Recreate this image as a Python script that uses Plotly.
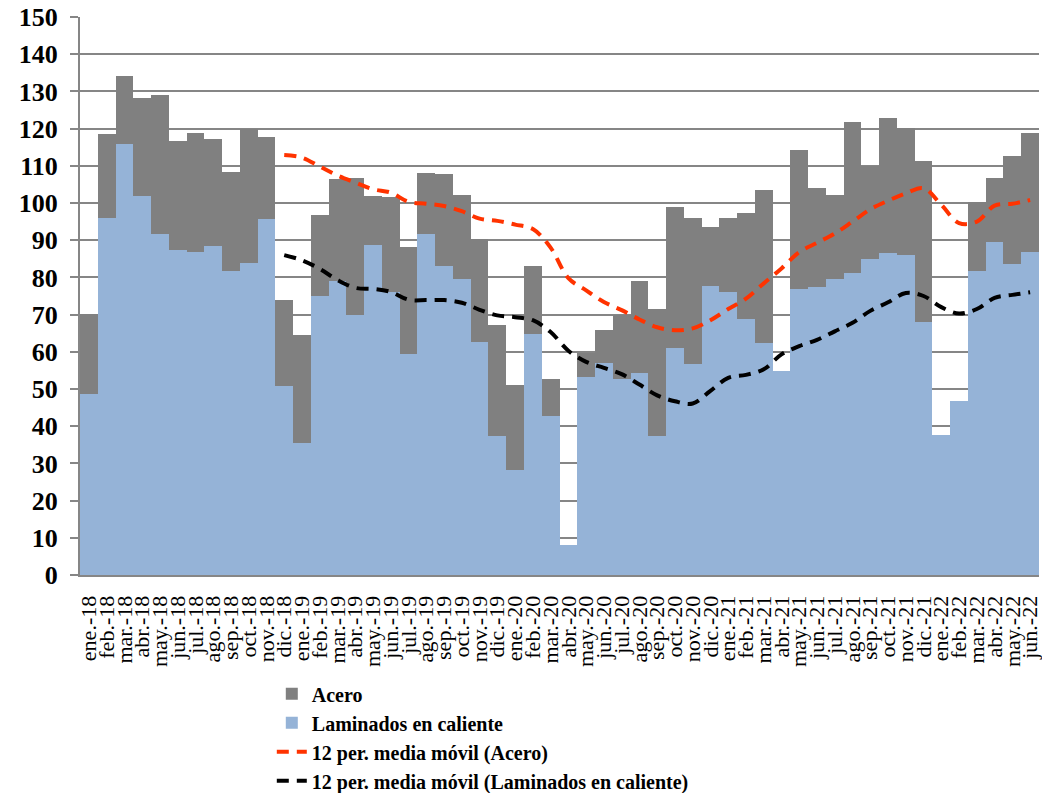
import plotly.graph_objects as go

# Meses (ene.-18 .. jun.-22)
meses = ["ene.", "feb.", "mar.", "abr.", "may.", "jun.",
         "jul.", "ago.", "sep.", "oct.", "nov.", "dic."]
categorias = [f"{m}-{a}" for a in range(18, 23) for m in meses][:54]

# Índices
acero = [70.1, 118.6, 134.1, 128.2, 128.9, 116.8, 118.8, 117.1, 108.3, 119.9, 117.8, 74.0,
         64.5, 96.7, 106.4, 106.7, 102.0, 101.5, 88.2, 108.0, 107.7, 102.1, 90.4, 67.3,
         51.2, 83.2, 52.7, 8.0, 59.6, 65.8, 69.8, 79.1, 71.4, 99.0, 95.9, 93.5,
         96.1, 97.2, 103.5, 54.5, 114.3, 104.1, 102.2, 121.8, 110.0, 122.8, 120.1, 111.2,
         37.5, 46.5, 100.4, 106.8, 112.6, 118.9]

laminados = [48.7, 96.0, 115.9, 101.8, 91.7, 87.3, 86.7, 88.5, 81.6, 83.9, 95.6, 50.8,
             35.4, 75.1, 79.0, 70.0, 88.7, 76.1, 59.3, 91.7, 83.0, 79.5, 62.7, 37.5,
             28.3, 64.9, 42.7, 8.1, 53.2, 57.0, 52.8, 54.3, 37.3, 61.0, 56.6, 77.7,
             76.0, 68.7, 62.4, 54.9, 76.8, 77.3, 79.5, 81.2, 84.9, 86.6, 86.0, 68.0,
             37.7, 46.7, 81.7, 89.4, 83.6, 86.9]

# Medias móviles de 12 periodos (empiezan en dic.-18)
mm_acero = [None] * 11 + [
    112.9, 112.2, 109.8, 107.4, 105.5, 103.7, 102.8, 100.3, 99.8, 99.2, 97.8, 95.8,
    95.2, 94.2, 93.0, 88.0, 79.8, 76.5, 73.4, 71.2, 68.7, 66.6, 65.8, 66.3,
    68.5, 71.5, 74.3, 78.4, 82.4, 86.8, 89.3, 91.8, 95.0, 98.3, 100.6, 102.6,
    104.0, 99.5, 94.6, 95.0, 99.3, 99.8, 100.8]

mm_laminados = [None] * 11 + [
    86.0, 84.6, 82.3, 79.3, 77.2, 76.9, 76.1, 74.0, 73.9, 73.9, 73.2, 71.3,
    69.8, 69.3, 68.5, 65.3, 60.3, 57.3, 55.7, 54.0, 51.2, 48.3, 46.7, 46.1,
    49.5, 53.0, 53.8, 55.3, 59.3, 61.5, 63.2, 65.5, 67.8, 71.0, 73.3, 75.8,
    75.0, 72.0, 70.3, 71.5, 74.5, 75.3, 76.0]

fuente = "Liberation Serif"

fig = go.Figure()
fig.add_trace(go.Bar(x=categorias, y=acero, name="Acero",
                     marker=dict(color="#808080", line=dict(width=0))))
fig.add_trace(go.Bar(x=categorias, y=laminados, name="Laminados en caliente",
                     marker=dict(color="#95B3D7", line=dict(width=0))))
fig.add_trace(go.Scatter(x=categorias, y=mm_acero, name="12 per. media móvil (Acero)",
                         mode="lines", line=dict(color="#FF3300", width=4, dash="12px,8px", shape="spline")))
fig.add_trace(go.Scatter(x=categorias, y=mm_laminados,
                         name="12 per. media móvil (Laminados en caliente)",
                         mode="lines", line=dict(color="#000000", width=4, dash="12px,8px", shape="spline")))

fig.update_layout(
    width=1042, height=793,
    margin=dict(l=80, r=3, t=17, b=218, autoexpand=False),
    paper_bgcolor="white", plot_bgcolor="white",
    barmode="overlay", bargap=0,
    font=dict(family=fuente, color="black"),
    showlegend=True,
    legend=dict(x=0.2, y=-0.178, xanchor="left", yanchor="top",
                font=dict(family=fuente, size=20, weight="bold", color="black"),
                tracegroupgap=0, bgcolor="rgba(0,0,0,0)"),
)

fig.update_xaxes(
    type="category", tickmode="linear", dtick=1, tickangle=-90, showgrid=False,
    showline=True, linecolor="#868686", linewidth=2, automargin=False,
    ticks="", ticklabelstandoff=10, tickfont=dict(family=fuente, size=22, color="black"),
)

fig.update_yaxes(
    range=[0, 150], dtick=10, showgrid=True, gridcolor="#868686", gridwidth=1.5,
    showline=True, linecolor="#868686", linewidth=2, automargin=False,
    ticks="outside", ticklen=8, tickcolor="#868686", tickwidth=1.5,
    ticklabelstandoff=7, ticklabeloverflow="allow",
    tickfont=dict(family=fuente, size=26, weight="bold", color="black"),
    zeroline=False,
)

# quitar el margen por defecto del <body> para que el gráfico empiece en (0, 0)
fig.write_html("out.html", config={"displayModeBar": False},
               post_script="document.body.style.margin = '0';")
